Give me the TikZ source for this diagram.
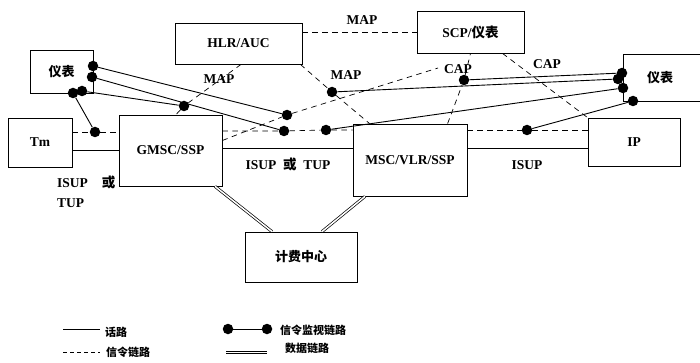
\documentclass[tikz,border=0pt]{standalone}
\usepackage{fontspec}
\setmainfont{Liberation Serif}
\newfontfamily\cjk{Noto Sans CJK SC}
\newcommand\zh[1]{{\cjk\bfseries #1}}
\begin{document}
\begin{tikzpicture}[x=1pt,y=-1pt,
  box/.style={draw, line width=0.8pt, inner sep=0pt},
  dot/.style={circle, fill, inner sep=0pt, minimum size=10.5pt},
  sig/.style={dash pattern=on 5.5pt off 4.5pt, line width=0.7pt},
  talk/.style={line width=0.8pt},
  mon/.style={line width=0.9pt},
  datal/.style={double, double distance=1.5pt, line width=0.7pt},
  lbl/.style={font=\fontsize{13.5}{15}\selectfont\bfseries, inner sep=1pt},
  zhl/.style={font=\fontsize{13}{15}\selectfont\cjk\bfseries, inner sep=1pt},
  leg/.style={font=\fontsize{11}{13}\selectfont\cjk\bfseries, inner sep=1pt, anchor=west}]
\useasboundingbox (0,0) rectangle (700,363);

% boxes
\node[box, minimum width=63pt, minimum height=43pt, zhl] (lmeter) at (61.5,71.5) {仪表};
\node[box, minimum width=127pt, minimum height=41pt, lbl] (hlr) at (238.5,43.5) {HLR/AUC};
\node[box, minimum width=107pt, minimum height=42pt, lbl] (scp) at (470.5,32) {SCP/\zh{仪表}};
\node[box, minimum width=104pt, minimum height=47pt, anchor=north west] (rmeter) at (623,54) {};
\node[zhl] (rmetert) at (660,78) {仪表};
\node[box, minimum width=64pt, minimum height=49pt, lbl] (tm) at (40,142.5) {Tm};
\node[box, minimum width=103pt, minimum height=71pt, lbl] (gmsc) at (170.5,150.5) {GMSC/SSP};
\node[box, minimum width=114pt, minimum height=72pt, lbl] (msc) at (410,160) {\raisebox{-4pt}{MSC/VLR/SSP}};
\node[box, minimum width=92pt, minimum height=48pt, lbl] (ip) at (634,142) {IP};
\node[box, minimum width=112pt, minimum height=50pt, zhl] (bill) at (301,257) {计费中心};

% dots
\node[dot] (a1) at (93,66) {};
\node[dot] (a2) at (92,77) {};
\node[dot] (a3) at (82,91) {};
\node[dot] (a4) at (73,93) {};
\node[dot] (a5) at (95,132) {};
\node[dot] (b1) at (184,106) {};
\node[dot] (c1) at (287,115) {};
\node[dot] (c2) at (284,131) {};
\node[dot] (c3) at (326,130) {};
\node[dot] (c4) at (332,92) {};
\node[dot] (d1) at (464,80) {};
\node[dot] (e1) at (622,73) {};
\node[dot] (e2) at (618,79) {};
\node[dot] (e3) at (623,88) {};
\node[dot] (e4) at (633,101) {};
\node[dot] (f1) at (527,130) {};
\coordinate (capend) at (438,68);

% helper points on box edges
\coordinate (tmE) at ([yshift=-7.5pt]tm.east);
\coordinate (gmE) at ([yshift=2.5pt]gmsc.east);
\coordinate (gmE2) at ([yshift=10pt]gmsc.east);
\coordinate (msE) at ([yshift=12pt]msc.east);
\coordinate (hlrS1) at ([xshift=2.5pt]hlr.south);
\coordinate (hlrS2) at ([xshift=-2pt]hlr.south east);
\coordinate (gmN) at ([xshift=5.5pt]gmsc.north);
\coordinate (msN1) at ([xshift=17pt]msc.north west);
\coordinate (msN2) at ([xshift=95pt]msc.north west);
\coordinate (scpS2) at ([xshift=32pt]scp.south);
\coordinate (gmS) at ([xshift=44.5pt]gmsc.south);
\coordinate (msS) at ([xshift=-45pt]msc.south);
\coordinate (biN1) at ([xshift=-29pt]bill.north);
\coordinate (biN2) at ([xshift=21pt]bill.north);

% talk lines
\draw[talk] (tmE) -- (gmsc.west |- tmE);
\draw[talk] (gmE) -- (msc.west |- gmE);
\draw[talk] (msE) -- (ip.west |- msE);

% signalling links
\draw[sig] (tm.east |- a5) -- (a5) -- (gmsc.west |- a5);
\draw[sig] (hlrS1) -- (b1) -- (gmN);
\draw[sig] (hlrS2) -- (c4) -- (msN1);
\draw[sig] (hlr.east |- scp.west) -- (scp.west);
\draw[sig] (gmsc.east |- c2) -- (c2) -- (c3) -- (msc.west |- c3);
\draw[sig] (gmE2) -- (c1) -- (capend);
\draw[sig] (msN2) -- (d1) -- (scp.south);
\draw[sig] (scpS2) -- (ip.north west);
\draw[sig] (msc.east |- f1) -- (f1) -- (ip.west |- f1);

% monitoring links
\draw[mon] (a1) -- (c1);
\draw[mon] (a2) -- (c2);
\draw[mon] (a3) -- (b1);
\draw[mon] (a4) -- (a5);
\draw[mon] (c3) -- (e3);
\draw[mon] (c4) -- (e2);
\draw[mon] (d1) -- (e1);
\draw[mon] (f1) -- (e4);

% data links
\draw[datal] (gmS) -- (biN1);
\draw[datal] (msS) -- (biN2);

% labels
\node[lbl] (m1) at (362,20) {MAP};
\node[lbl] (m2) at (219,79) {MAP};
\node[lbl] (m3) at (346,75) {MAP};
\node[lbl] (p1) at (458,69) {CAP};
\node[lbl] (p2) at (547,64) {CAP};
\node[lbl] (i1) at (288,164) {ISUP\ \ \zh{或}\ \ TUP};
\node[lbl] (i2) at (527,165) {ISUP};
\node[lbl, anchor=west] (i3) at (56,182) {ISUP\hspace{14pt}\zh{或}};
\node[lbl, anchor=west] (i4) at (56,203) {TUP};

% legend
\coordinate (l1a) at (63,329); \coordinate (l1b) at (100,329);
\draw[talk] (l1a) -- (l1b);
\node[leg] (t1) at (104,332) {话路};
\coordinate (l2a) at (63,352); \coordinate (l2b) at (100,352);
\draw[sig, dash pattern=on 4pt off 3pt] (l2a) -- (l2b);
\node[leg] (t2) at (105,352) {信令链路};
\node[dot] (g1) at (228,329) {};
\node[dot] (g2) at (267,329) {};
\draw[mon] (g1) -- (g2);
\node[leg] (t3) at (279,330) {信令监视链路};
\coordinate (l4a) at (226,352.5); \coordinate (l4b) at (267,352.5);
\draw[datal] (l4a) -- (l4b);
\node[leg] (t4) at (284,348) {数据链路};
\end{tikzpicture}
\end{document}
